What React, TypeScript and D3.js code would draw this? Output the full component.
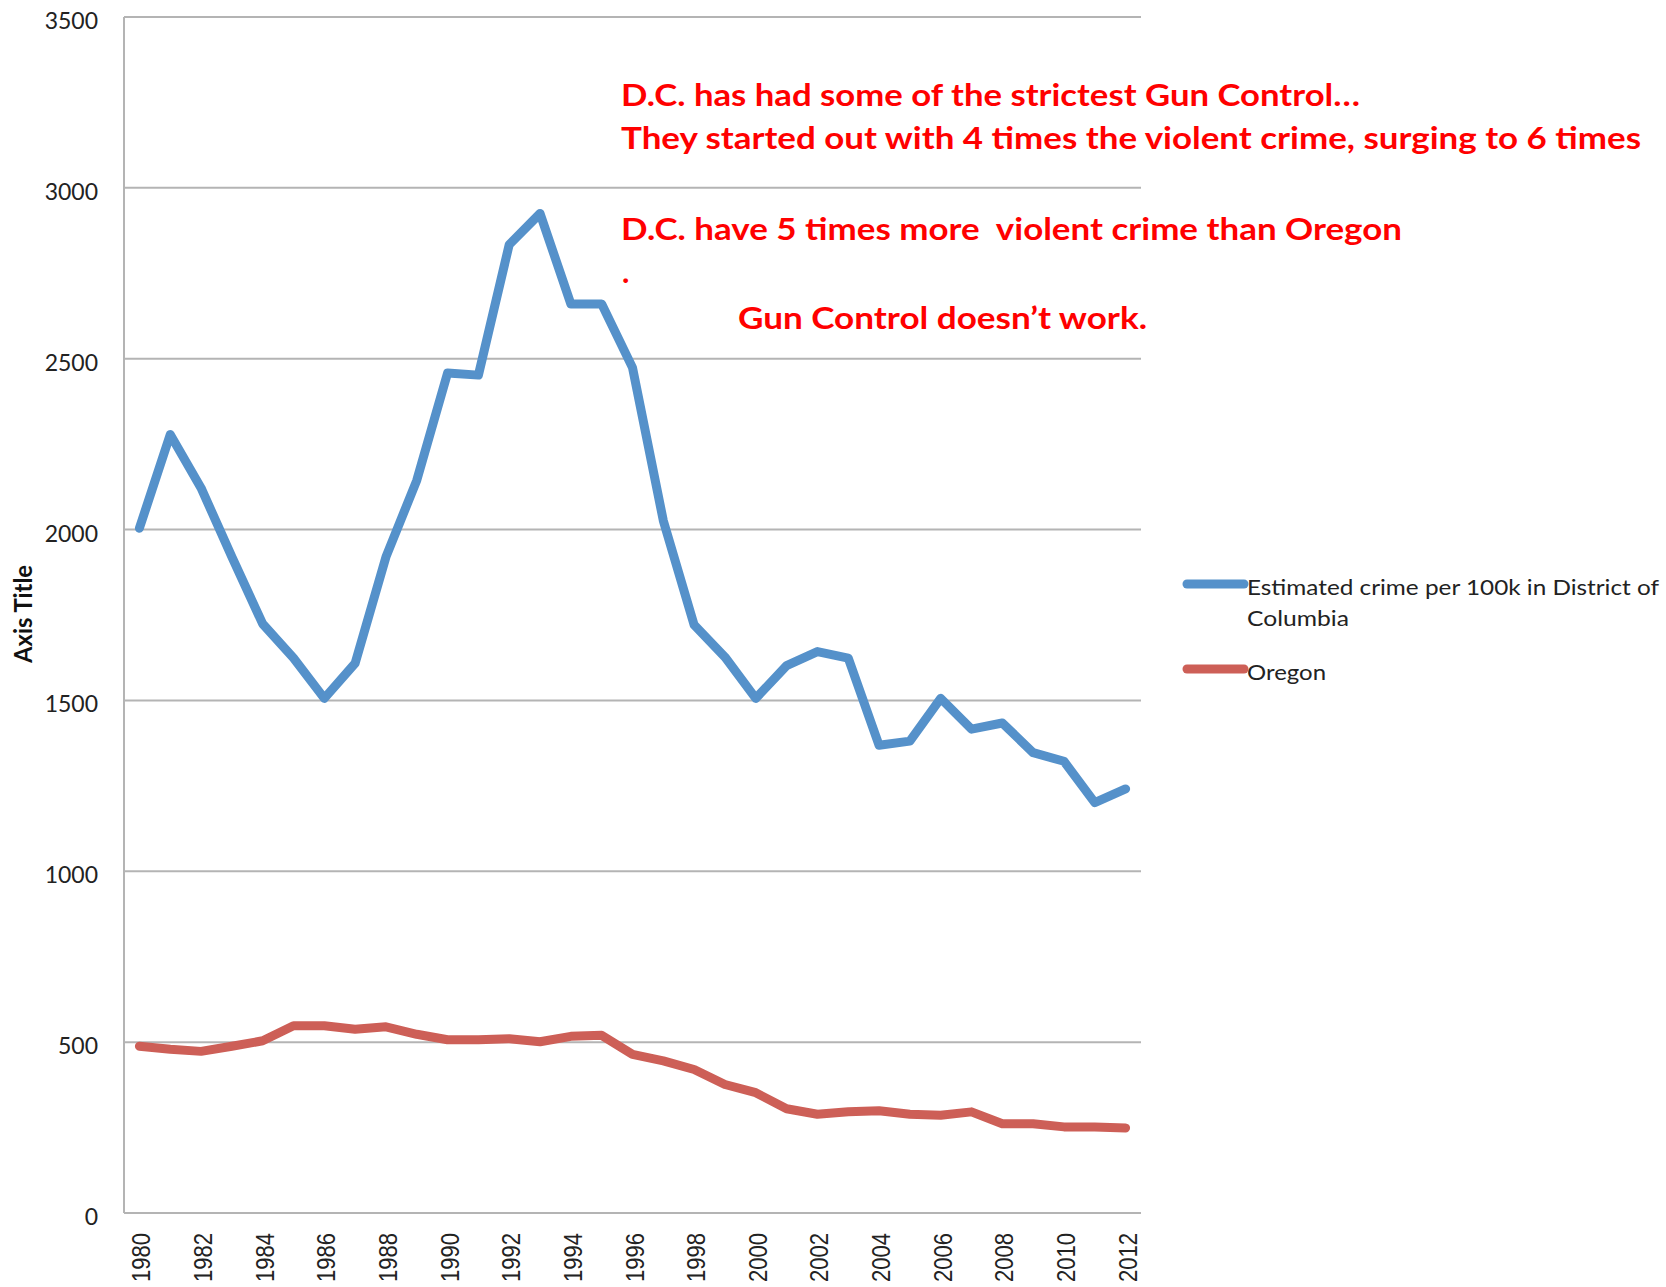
import React, { useRef, useEffect } from 'react';
import * as d3 from 'd3';

// years on the x axis
const years = d3.range(1980, 2013).map(String);

// violent crime per 100k
const dcValues = [
  2004, 2278, 2122, 1920, 1724, 1624, 1506, 1609, 1920, 2144,
  2458, 2452, 2834, 2925, 2660, 2660, 2474, 2026, 1721, 1627,
  1506, 1602, 1643, 1624, 1369, 1381, 1506, 1416, 1434, 1347,
  1322, 1201, 1241,
];
const oregonValues = [
  488, 479, 473, 488, 504, 548, 548, 538, 545, 523,
  507, 507, 510, 501, 517, 520, 464, 445, 420, 376,
  352, 305, 289, 296, 299, 289, 286, 296, 261, 261,
  252, 252, 249,
];

const yTicks = [0, 500, 1000, 1500, 2000, 2500, 3000, 3500];
const xTickYears = years.filter((y, i) => i % 2 === 0);

const seriesNames = ['Estimated crime per 100k in District of', 'Oregon'];
const seriesColors = ['#5591ca', '#cd5f57'];

const notes = [
  'D.C. has had some of the strictest Gun Control\u2026',
  'They started out with 4 times the violent crime, surging to 6 times',
  'D.C. have 5 times more  violent crime than Oregon',
  '.',
  'Gun Control doesn\u2019t work.',
];

function App() {
  const svgRef = useRef<SVGSVGElement>(null);

  useEffect(() => {
    const w = 1666;
    const h = 1287;
    const left = 124, right = 1141, top = 17, bottom = 1213;

    const svg = d3.select(svgRef.current)
      .attr('width', w)
      .attr('height', h);
    svg.selectAll('*').remove();

    const x = d3.scalePoint<string>().domain(years).range([left, right]).padding(0.5);
    const y = d3.scaleLinear().domain([0, 3500]).range([bottom, top]);

    // gridlines
    svg.append('g')
      .selectAll('line')
      .data(yTicks)
      .join('line')
      .attr('x1', left)
      .attr('x2', right)
      .attr('y1', d => y(d))
      .attr('y2', d => y(d))
      .attr('stroke', '#b4b4b4')
      .attr('stroke-width', 2);

    // y axis line
    svg.append('line')
      .attr('x1', left).attr('x2', left)
      .attr('y1', top).attr('y2', bottom)
      .attr('stroke', '#b4b4b4')
      .attr('stroke-width', 2);

    // y tick labels
    svg.append('g')
      .selectAll('text')
      .data(yTicks)
      .join('text')
      .attr('x', 98)
      .attr('y', d => y(d) + 12)
      .attr('text-anchor', 'end')
      .attr('font-family', 'Lato, sans-serif')
      .attr('font-size', 23)
      .attr('fill', '#222')
      .text(d => d);

    // x tick labels
    svg.append('g')
      .selectAll('text')
      .data(xTickYears)
      .join('text')
      .attr('transform', d => `translate(${(x(d) as number) + 11},${bottom + 20}) rotate(-90)`)
      .attr('text-anchor', 'end')
      .attr('font-family', '"Liberation Sans", Arial, sans-serif')
      .attr('font-size', 25)
      .attr('textLength', 49)
      .attr('lengthAdjust', 'spacingAndGlyphs')
      .attr('fill', '#222')
      .text(d => d);

    // axis title
    svg.append('text')
      .attr('transform', `translate(32,614) rotate(-90)`)
      .attr('text-anchor', 'middle')
      .attr('font-family', 'Lato, sans-serif')
      .attr('font-weight', 'bold')
      .attr('font-size', 24)
      .attr('textLength', 98)
      .attr('lengthAdjust', 'spacingAndGlyphs')
      .attr('fill', '#111')
      .text('Axis Title');

    // lines
    const line = d3.line<number>()
      .x((d, i) => x(years[i]) as number)
      .y(d => y(d));

    svg.selectAll('.series')
      .data([dcValues, oregonValues])
      .join('path')
      .attr('class', 'series')
      .attr('d', d => line(d))
      .attr('fill', 'none')
      .attr('stroke', (d, i) => seriesColors[i])
      .attr('stroke-width', 9)
      .attr('stroke-linejoin', 'round')
      .attr('stroke-linecap', 'round');

    // legend
    const legY = [584, 669];
    const legend = svg.append('g');
    legend.selectAll('line')
      .data(seriesNames)
      .join('line')
      .attr('x1', 1187).attr('x2', 1244)
      .attr('y1', (d, i) => legY[i]).attr('y2', (d, i) => legY[i])
      .attr('stroke', (d, i) => seriesColors[i])
      .attr('stroke-width', 9)
      .attr('stroke-linecap', 'round');
    legend.selectAll('text')
      .data(seriesNames)
      .join('text')
      .attr('x', 1247)
      .attr('y', (d, i) => legY[i] + 11)
      .attr('font-family', 'Lato, sans-serif')
      .attr('font-size', 22)
      .attr('fill', '#222')
      .attr('textLength', (d, i) => (i === 0 ? 412 : 79))
      .attr('lengthAdjust', 'spacingAndGlyphs')
      .text(d => d);
    legend.append('text')
      .attr('x', 1247)
      .attr('y', 626)
      .attr('font-family', 'Lato, sans-serif')
      .attr('font-size', 22)
      .attr('fill', '#222')
      .attr('textLength', 102)
      .attr('lengthAdjust', 'spacingAndGlyphs')
      .text('Columbia');

    // red annotation
    const notePos = [
      { x: 621, y: 106, len: 739 },
      { x: 621, y: 149, len: 1020 },
      { x: 621, y: 240, len: 781 },
      { x: 622, y: 283, len: 0 },
      { x: 738, y: 329, len: 409 },
    ];
    svg.append('g')
      .selectAll('text')
      .data(notes)
      .join('text')
      .attr('x', (d, i) => notePos[i].x)
      .attr('y', (d, i) => notePos[i].y)
      .attr('font-family', 'Lato, sans-serif')
      .attr('font-weight', 'bold')
      .attr('font-size', 31)
      .attr('fill', '#ff0000')
      .style('white-space', 'pre')
      .each(function (d, i) {
        if (notePos[i].len) {
          d3.select(this)
            .attr('textLength', notePos[i].len)
            .attr('lengthAdjust', 'spacingAndGlyphs');
        }
      })
      .text(d => d);
  }, []);

  return (
    <div>
      <svg ref={svgRef} style={{ position: 'absolute', left: 0, top: 0, background: '#fff' }}></svg>
    </div>
  );
}

export default App;
